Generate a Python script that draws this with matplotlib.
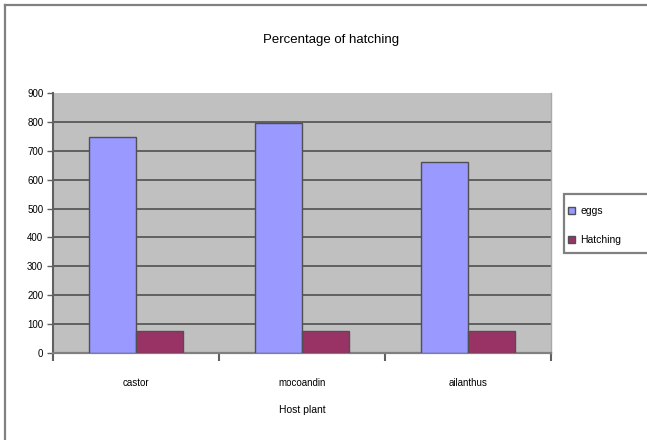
import matplotlib.pyplot as plt
from matplotlib.lines import Line2D
from matplotlib.patches import Rectangle

plt.rcParams['font.family'] = ['Liberation Sans', 'DejaVu Sans']

plants = ['castor', 'mocoandin', 'ailanthus']
eggs = [746, 795, 662]
hatching = [77, 77, 77]
series_names = ['eggs', 'Hatching']
yticks = list(range(0, 901, 100))

W, H = 647, 440
fig = plt.figure(figsize=(W / 100, H / 100), dpi=100)
fig.patch.set_facecolor('white')

# chart area border: top and left edges only, the rest runs off the image
border = dict(transform=fig.transFigure, color='#808080', linewidth=1.6)
fig.lines.append(Line2D([5 / W, 1.0], [1 - 5 / H, 1 - 5 / H], **border))
fig.lines.append(Line2D([5 / W, 5 / W], [0.0, 1 - 5 / H], **border))

ax = fig.add_axes([53 / W, 1 - 353 / H, 498 / W, 260 / H])
ax.set_facecolor('#C0C0C0')

x = list(range(len(plants)))
w = 0.286
ax.bar([i - w / 2 for i in x], eggs, width=w, color='#9999FF',
       edgecolor='#505050', linewidth=1.0, label=series_names[0], zorder=3)
ax.bar([i + w / 2 for i in x], hatching, width=w, color='#993366',
       edgecolor='#505050', linewidth=1.0, label=series_names[1], zorder=3)

for v in yticks[1:-1]:
    ax.axhline(v, color='#606060', linewidth=1.4, zorder=1)

ax.set_xlim(-0.5, len(plants) - 0.5)
ax.set_ylim(0, 900)
ax.set_yticks(yticks)
ax.tick_params(axis='y', direction='out', length=4, width=1, color='#606060',
               labelsize=7, pad=3)

# tick marks between categories, labels centred on each group
ax.set_xticks([i - 0.5 for i in range(len(plants) + 1)])
ax.set_xticklabels([])
ax.set_xticks(x, minor=True)
ax.set_xticklabels(plants, minor=True, fontsize=7)
ax.tick_params(axis='x', which='major', direction='out', length=6, width=1.5,
               color='#606060')
ax.tick_params(axis='x', which='minor', length=0, pad=18)

ax.spines['top'].set_visible(False)
ax.spines['right'].set_color('#A8A8A8')
ax.spines['right'].set_linewidth(1.0)
ax.spines['left'].set_color('#606060')
ax.spines['left'].set_linewidth(1.5)
ax.spines['bottom'].set_color('#808080')
ax.spines['bottom'].set_linewidth(1.6)

ax.set_xlabel('Host plant', fontsize=7.5, labelpad=12)
fig.text(331 / W, 1 - 40 / H, 'Percentage of hatching', ha='center',
         va='center', fontsize=9.5)

# legend box, cut off by the right edge
fig.patches.append(Rectangle((564 / W, 1 - 253 / H), 150 / W, 59 / H,
                             transform=fig.transFigure, facecolor='white',
                             edgecolor='#808080', linewidth=1.6))
leg = fig.legend(loc='upper left', bbox_to_anchor=(566 / W, 1 - 204 / H),
                 fontsize=7.5, frameon=False, handlelength=0.7,
                 handleheight=0.7, handletextpad=0.5, borderpad=0.2,
                 labelspacing=1.8, borderaxespad=0)

fig.savefig('out.png', dpi=100)
